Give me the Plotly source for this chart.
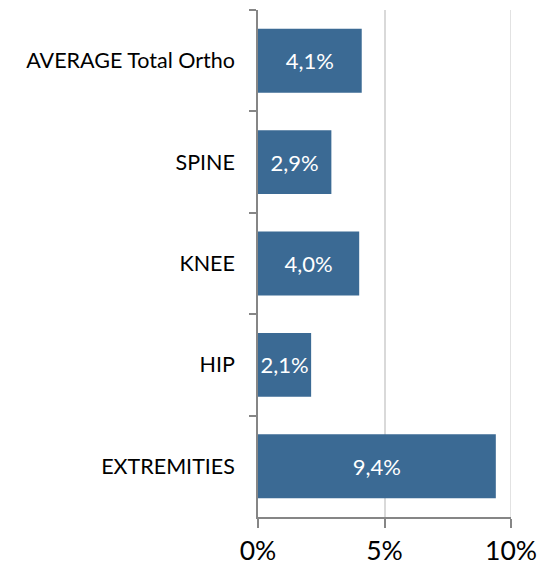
import plotly.graph_objects as go

categories = ["AVERAGE Total Ortho", "SPINE", "KNEE", "HIP", "EXTREMITIES"]
values = [4.1, 2.9, 4.0, 2.1, 9.4]
x_tick_vals = [0, 5, 10]
x_tick_text = ["0%", "5%", "10%"]

labels = [f"{v:.1f}%".replace(".", ",") for v in values]

fig = go.Figure(go.Bar(
    y=categories, x=values, orientation="h",
    marker=dict(color="#3B6A94", line=dict(width=0)),
    text=labels, textposition="inside", insidetextanchor="middle",
    textangle=0, constraintext="none",
    textfont=dict(color="white", size=22, family="Lato"),
    hoverinfo="skip",
))

# gridline at the right edge (plotly hides edge gridlines)
fig.add_shape(type="line", xref="x", yref="paper",
              x0=x_tick_vals[-1], x1=x_tick_vals[-1], y0=0, y1=1,
              line=dict(color="#D9D9D9", width=1.5), layer="below")

# page body has an 8px margin: shrink the figure so it fits the window
fig.update_layout(
    width=546, height=558,
    margin=dict(l=250, r=43, t=2, b=49),
    paper_bgcolor="white", plot_bgcolor="white",
    bargap=0.37, showlegend=False,
    font=dict(family="Lato", color="black"),
    uniformtext=dict(minsize=22, mode="show"),
)
fig.update_xaxes(
    range=[0, 10], tickvals=x_tick_vals, ticktext=x_tick_text,
    showgrid=True, gridcolor="#D9D9D9", gridwidth=1.5,
    showline=True, linecolor="#868686", linewidth=1.5,
    ticks="outside", ticklen=9, tickcolor="#868686", tickwidth=1.5,
    tickfont=dict(size=26.5, family="Lato"), zeroline=False, fixedrange=True,
    automargin=False,
)
fig.update_yaxes(
    categoryorder="array", categoryarray=categories, autorange="reversed",
    tickson="boundaries", ticks="outside", ticklen=7, tickcolor="#868686", tickwidth=1.5,
    showline=True, linecolor="#868686", linewidth=1.5, showgrid=False,
    tickfont=dict(size=21.5, family="Lato"), ticklabelstandoff=17, fixedrange=True,
    automargin=False,
)

fig.write_html("out.html")
